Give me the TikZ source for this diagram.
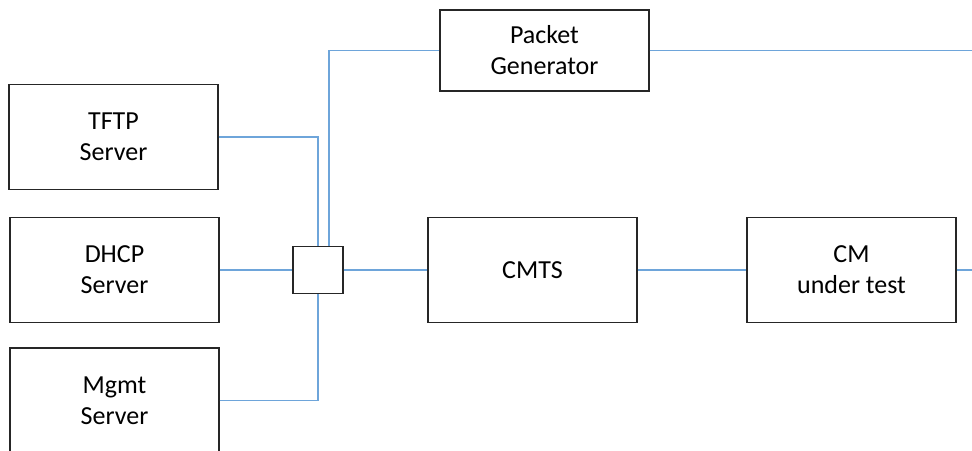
\documentclass[tikz,border=0pt]{standalone}
\usepackage{fontspec}
\setmainfont{Carlito}
\usetikzlibrary{positioning}
\definecolor{wire}{RGB}{110,165,218}

\begin{document}
\begin{tikzpicture}
	[x=1pt,y=-1pt,
	 box/.style={draw=black!85,line width=1.3pt,minimum width=209pt,minimum height=105pt,
	 	align=center,inner sep=0pt,font=\fontsize{26}{31}\selectfont},
	 link/.style={draw=wire,line width=1.5pt}]
	\useasboundingbox (0,0) rectangle (972,450);
	\clip (0,0) rectangle (972,450);
	\node[box] (tftp) at (113.5,137) {TFTP\\Server};
	\node[box] (dhcp) at (114.5,270) {DHCP\\Server};
	\node[box] (mgmt) at (114.5,400.5) {Mgmt\\Server};
	\node[box,minimum height=81pt] (pg) at (544.5,50.5) {Packet\\Generator};
	\node[box] (cmts) at (532.5,270) {CMTS};
	\node[box] (cm) at (851.5,270) {CM\\under test};
	\node[box,minimum width=50pt,minimum height=47pt] (sw) at (318,270) {};
	\coordinate (pgout) at (972,50.5);
	\coordinate (cmout) at (972,270);
	
	\draw[link] (tftp.east) -| (sw.north);
	\draw[link] (mgmt.east) -| (sw.south);
	\draw[link] (pg.west) -| ([xshift=11pt]sw.north);
	\foreach \from/\to in {dhcp.east/sw.west,sw.east/cmts.west,cmts.east/cm.west,cm.east/cmout,pg.east/pgout}
		\draw[link] (\from) -- (\to);
\end{tikzpicture}
\end{document}
